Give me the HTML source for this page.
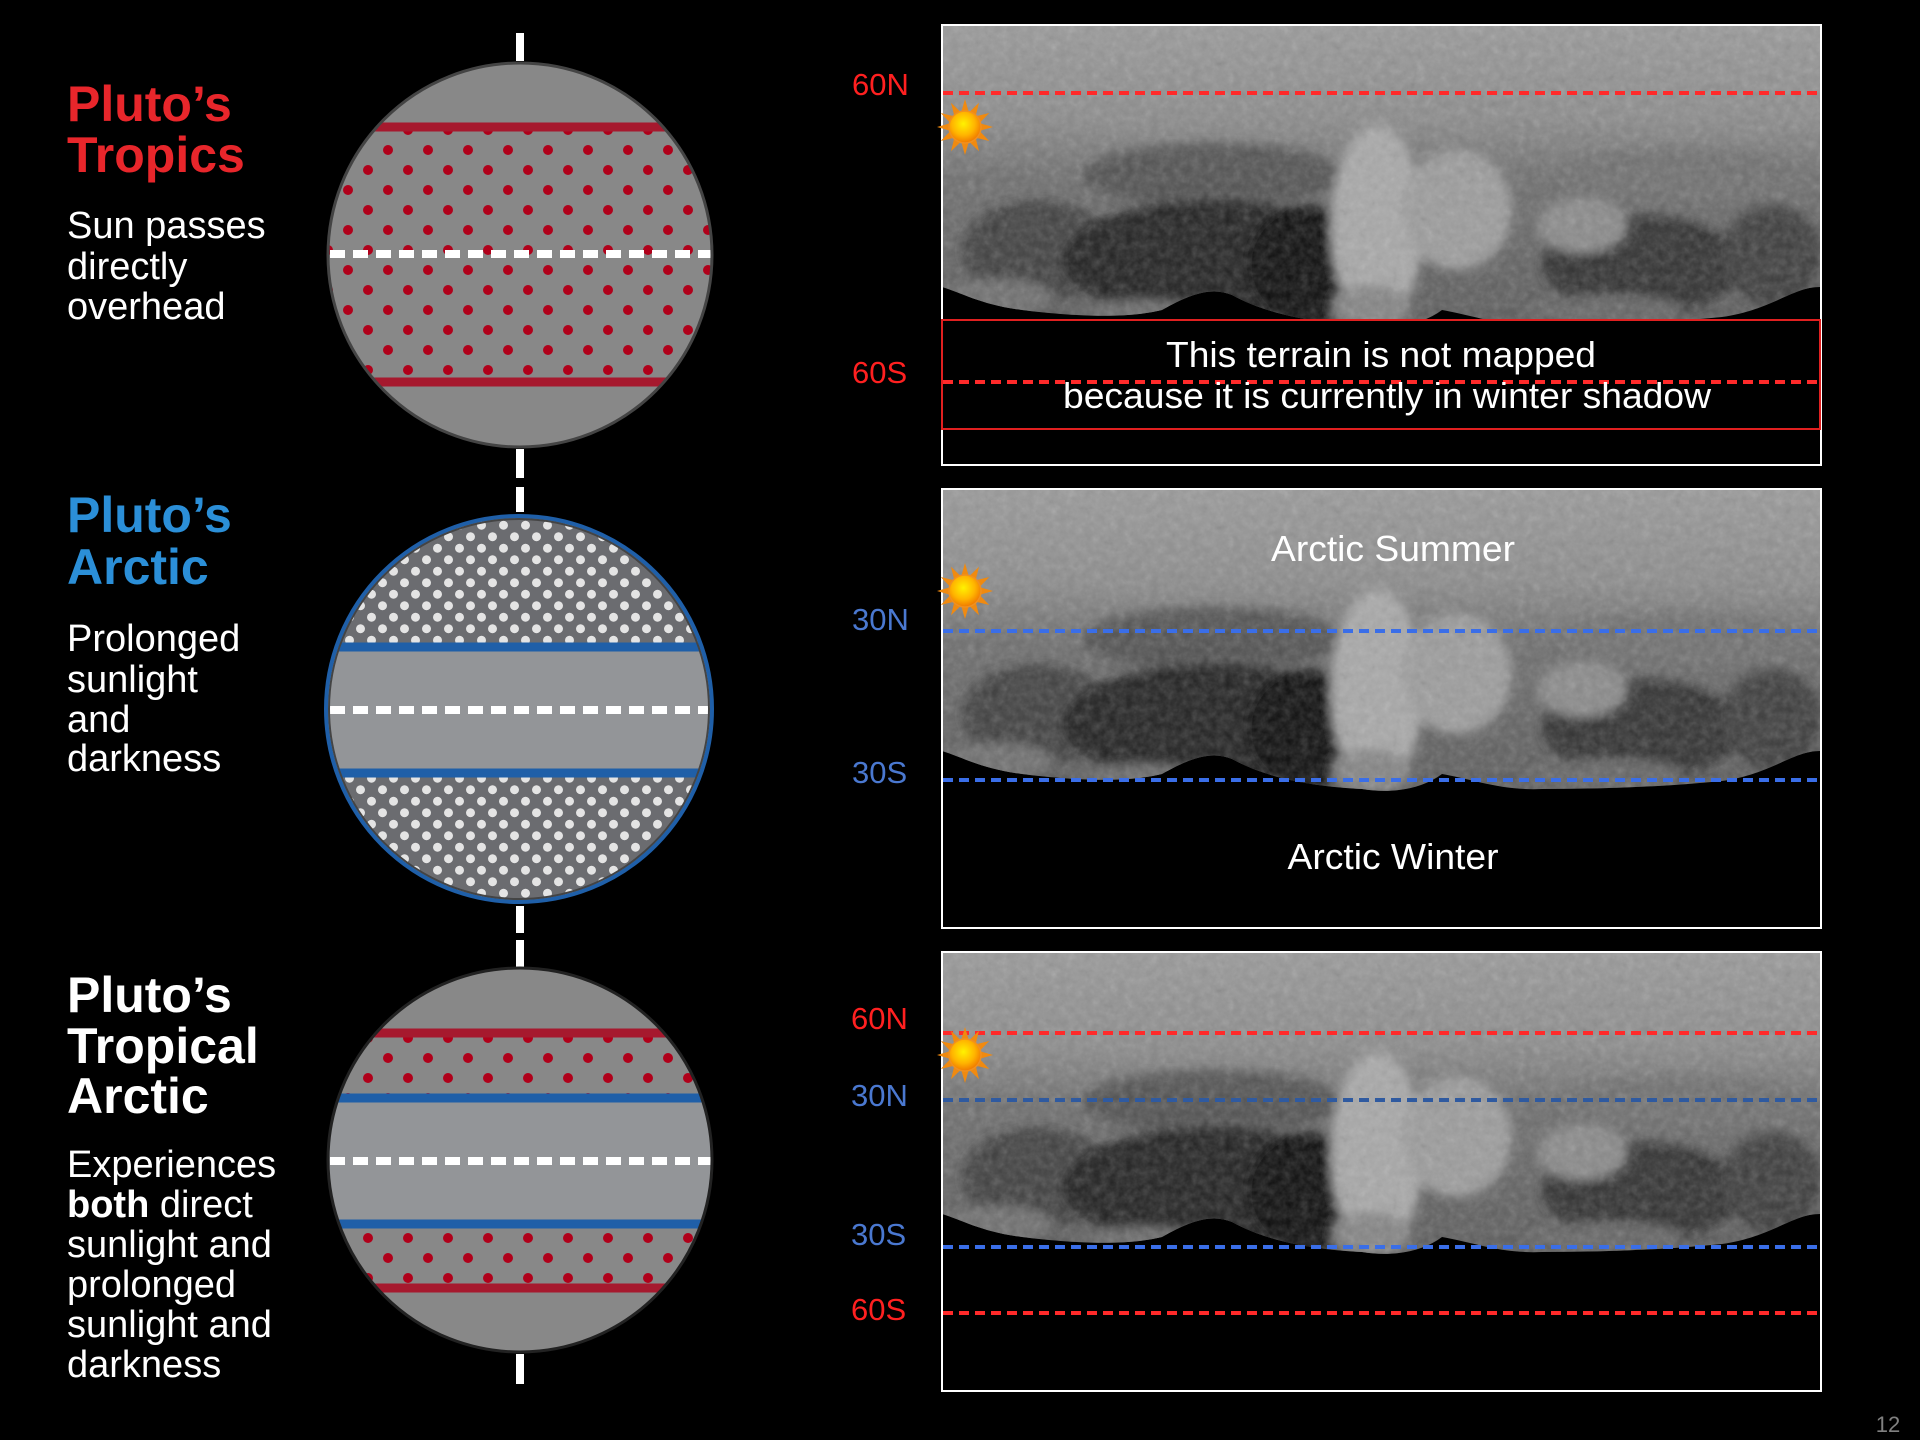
<!DOCTYPE html>
<html><head><meta charset="utf-8"><style>
html,body{margin:0;padding:0;background:#000;}
svg{display:block;}
text{font-family:"Liberation Sans",Arial,sans-serif;}
</style></head><body>
<svg width="1920" height="1440" viewBox="0 0 1920 1440" xmlns="http://www.w3.org/2000/svg">
<defs>
  <pattern id="rd1" patternUnits="userSpaceOnUse" x="-2" y="0" width="40" height="40">
    <circle cx="10" cy="10" r="5" fill="#b0001a"/><circle cx="30" cy="30" r="5" fill="#b0001a"/>
  </pattern>
  <pattern id="rd3" patternUnits="userSpaceOnUse" x="-2" y="28" width="40" height="40">
    <circle cx="10" cy="10" r="5" fill="#b0001a"/><circle cx="30" cy="30" r="5" fill="#b0001a"/>
  </pattern>
  <pattern id="wd" patternUnits="userSpaceOnUse" x="3" y="2" width="22" height="23">
    <circle cx="5.5" cy="5.75" r="4.5" fill="#e4e4e4"/><circle cx="16.5" cy="17.25" r="4.5" fill="#e4e4e4"/>
  </pattern>
  <clipPath id="c1"><circle cx="520" cy="255" r="191"/></clipPath>
  <clipPath id="c2"><circle cx="519" cy="709" r="191"/></clipPath>
  <clipPath id="c3"><circle cx="520" cy="1160" r="191"/></clipPath>
  <clipPath id="mapclip"><path d="M0,0 H878 V262 C850,262 830,285 780,292 C720,298 660,300 600,300 C560,302 530,290 500,285 C480,300 450,305 420,300 C380,298 330,292 290,270 C270,262 250,268 220,285 C180,295 120,290 80,285 C40,280 20,268 0,262 Z"/></clipPath>
  <linearGradient id="tg" x1="0" y1="0" x2="0" y2="1">
    <stop offset="0" stop-color="#9a9a9a"/><stop offset="0.3" stop-color="#8c8c8c"/><stop offset="0.5" stop-color="#6e6e6e"/><stop offset="1" stop-color="#5a5a5a"/>
  </linearGradient>
  <filter id="bl" x="-20%" y="-20%" width="140%" height="140%"><feGaussianBlur stdDeviation="5"/></filter>
  <filter id="noise"><feTurbulence type="fractalNoise" baseFrequency="0.12" numOctaves="3" seed="4"/><feColorMatrix type="saturate" values="0"/></filter>
  <radialGradient id="sung" cx="0.45" cy="0.4" r="0.6">
    <stop offset="0" stop-color="#fff200"/><stop offset="0.6" stop-color="#ffb400"/><stop offset="1" stop-color="#f07800"/>
  </radialGradient>
  <g id="terr">
    <rect x="0" y="0" width="878" height="440" fill="#000"/>
    <g clip-path="url(#mapclip)">
      <rect x="0" y="0" width="878" height="310" fill="url(#tg)"/>
      <g filter="url(#bl)">
        <ellipse cx="95" cy="225" rx="75" ry="50" fill="#3a3a3a" opacity="0.8"/>
        <ellipse cx="270" cy="150" rx="130" ry="32" fill="#4c4c4c" opacity="0.85"/>
        <ellipse cx="270" cy="235" rx="150" ry="60" fill="#222"/>
        <ellipse cx="365" cy="240" rx="60" ry="60" fill="#111"/>
        <ellipse cx="55" cy="272" rx="55" ry="18" fill="#707070"/>
        <ellipse cx="200" cy="287" rx="60" ry="12" fill="#6a6a6a"/>
        <ellipse cx="700" cy="240" rx="100" ry="50" fill="#333"/>
        <ellipse cx="830" cy="230" rx="50" ry="50" fill="#3c3c3c"/>
        <ellipse cx="640" cy="200" rx="45" ry="28" fill="#8a8a8a"/>
        <ellipse cx="740" cy="150" rx="130" ry="25" fill="#707070"/>
        <ellipse cx="660" cy="285" rx="80" ry="15" fill="#666"/>
        <ellipse cx="435" cy="200" rx="46" ry="100" fill="#a8a8a8"/>
        <ellipse cx="515" cy="185" rx="55" ry="60" fill="#9c9c9c"/>
        <ellipse cx="430" cy="282" rx="40" ry="22" fill="#858585"/>
      </g>
      <rect x="0" y="0" width="878" height="310" filter="url(#noise)" opacity="0.28"/>
    </g>
  </g>
  <g id="sun">
    <g fill="#f08a10">
      <polygon points="0,-28 4,-14 -4,-14"/><polygon points="0,-28 4,-14 -4,-14" transform="rotate(30)"/>
      <polygon points="0,-28 4,-14 -4,-14" transform="rotate(60)"/><polygon points="0,-28 4,-14 -4,-14" transform="rotate(90)"/>
      <polygon points="0,-28 4,-14 -4,-14" transform="rotate(120)"/><polygon points="0,-28 4,-14 -4,-14" transform="rotate(150)"/>
      <polygon points="0,-28 4,-14 -4,-14" transform="rotate(180)"/><polygon points="0,-28 4,-14 -4,-14" transform="rotate(210)"/>
      <polygon points="0,-28 4,-14 -4,-14" transform="rotate(240)"/><polygon points="0,-28 4,-14 -4,-14" transform="rotate(270)"/>
      <polygon points="0,-28 4,-14 -4,-14" transform="rotate(300)"/><polygon points="0,-28 4,-14 -4,-14" transform="rotate(330)"/>
    </g>
    <circle r="16" fill="url(#sung)" stroke="#f09020" stroke-width="1.5"/>
  </g>
</defs>

<g fill="#fff">
  <rect x="516" y="33" width="8" height="28"/>
  <rect x="516" y="449" width="8" height="29"/>
  <rect x="516" y="487" width="8" height="25"/>
  <rect x="516" y="906" width="8" height="27"/>
  <rect x="516" y="940" width="8" height="27"/>
  <rect x="516" y="1354" width="8" height="30"/>
</g>

<circle cx="520" cy="255" r="192" fill="#888"/>
<g clip-path="url(#c1)">
  <rect x="320" y="127" width="400" height="255" fill="url(#rd1)"/>
  <rect x="320" y="122.5" width="400" height="9" fill="#a6192e"/>
  <rect x="320" y="377.5" width="400" height="9" fill="#a6192e"/>
  <line x1="330" y1="254" x2="712" y2="254" stroke="#fff" stroke-width="8" stroke-dasharray="15 8"/>
</g>
<circle cx="520" cy="255" r="192" fill="none" stroke="#444" stroke-width="3"/>

<circle cx="519" cy="709" r="193" fill="#6b6c70"/>
<g clip-path="url(#c2)">
  <rect x="320" y="510" width="400" height="140" fill="url(#wd)"/>
  <rect x="320" y="770" width="400" height="140" fill="url(#wd)"/>
  <rect x="320" y="651" width="400" height="118" fill="#939598"/>
  <rect x="320" y="642.5" width="400" height="9" fill="#1f5fa8"/>
  <rect x="320" y="768.5" width="400" height="9" fill="#1f5fa8"/>
  <line x1="330" y1="710" x2="712" y2="710" stroke="#fff" stroke-width="8" stroke-dasharray="15 8"/>
</g>
<circle cx="519" cy="709" r="190" fill="none" stroke="#444" stroke-width="2"/>
<circle cx="519" cy="709" r="193" fill="none" stroke="#1f5fa8" stroke-width="4"/>

<circle cx="520" cy="1160" r="192" fill="#888"/>
<g clip-path="url(#c3)">
  <rect x="320" y="1033" width="400" height="65" fill="url(#rd3)"/>
  <rect x="320" y="1224" width="400" height="64" fill="url(#rd3)"/>
  <rect x="320" y="1098" width="400" height="126" fill="#939598"/>
  <rect x="320" y="1028.5" width="400" height="9" fill="#a6192e"/>
  <rect x="320" y="1283.5" width="400" height="9" fill="#a6192e"/>
  <rect x="320" y="1093.5" width="400" height="9" fill="#1f5fa8"/>
  <rect x="320" y="1219.5" width="400" height="9" fill="#1f5fa8"/>
  <line x1="330" y1="1161" x2="712" y2="1161" stroke="#fff" stroke-width="8" stroke-dasharray="15 8"/>
</g>
<circle cx="520" cy="1160" r="192" fill="none" stroke="#222" stroke-width="3"/>

<g font-weight="bold" font-size="50">
  <text x="67" y="121" fill="#e8262b">Pluto’s</text>
  <text x="67" y="172" fill="#e8262b">Tropics</text>
  <text x="67" y="532" fill="#2b8fd8">Pluto’s</text>
  <text x="67" y="584" fill="#2b8fd8">Arctic</text>
  <text x="67" y="1012" fill="#fff">Pluto’s</text>
  <text x="67" y="1063" fill="#fff">Tropical</text>
  <text x="67" y="1113" fill="#fff">Arctic</text>
</g>
<g font-size="38" fill="#fff">
  <text x="67" y="238">Sun passes</text>
  <text x="67" y="279">directly</text>
  <text x="67" y="319">overhead</text>
  <text x="67" y="651">Prolonged</text>
  <text x="67" y="692">sunlight</text>
  <text x="67" y="732">and</text>
  <text x="67" y="771">darkness</text>
  <text x="67" y="1177">Experiences</text>
  <text x="67" y="1217"><tspan font-weight="bold">both</tspan> direct</text>
  <text x="67" y="1257">sunlight and</text>
  <text x="67" y="1297">prolonged</text>
  <text x="67" y="1337">sunlight and</text>
  <text x="67" y="1377">darkness</text>
</g>

<use href="#terr" x="942" y="25"/>
<rect x="942" y="25" width="879" height="440" fill="none" stroke="#fff" stroke-width="2"/>
<line x1="943" y1="93" x2="1820" y2="93" stroke="#ff2a2a" stroke-width="4" stroke-dasharray="10 6"/>
<rect x="942" y="320" width="878" height="109" fill="#000" stroke="#e02020" stroke-width="2"/>
<line x1="943" y1="382" x2="1820" y2="382" stroke="#ff2a2a" stroke-width="4" stroke-dasharray="10 6"/>
<text x="1381" y="367" fill="#fff" font-size="36" text-anchor="middle" textLength="430" lengthAdjust="spacingAndGlyphs">This terrain is not mapped</text>
<text x="1387" y="408" fill="#fff" font-size="36" text-anchor="middle" textLength="648" lengthAdjust="spacingAndGlyphs">because it is currently in winter shadow</text>
<use href="#sun" x="965" y="127"/>
<text x="852" y="95" fill="#ff2020" font-size="31">60N</text>
<text x="852" y="383" fill="#ff2020" font-size="31">60S</text>

<use href="#terr" x="942" y="489"/>
<rect x="942" y="489" width="879" height="439" fill="none" stroke="#fff" stroke-width="2"/>
<line x1="943" y1="631" x2="1820" y2="631" stroke="#3a6ee8" stroke-width="4" stroke-dasharray="10 6"/>
<line x1="943" y1="780" x2="1820" y2="780" stroke="#3a6ee8" stroke-width="4" stroke-dasharray="10 6"/>
<text x="1393" y="561" fill="#fff" font-size="36" text-anchor="middle" textLength="244" lengthAdjust="spacingAndGlyphs">Arctic Summer</text>
<text x="1393" y="869" fill="#fff" font-size="36" text-anchor="middle" textLength="211" lengthAdjust="spacingAndGlyphs">Arctic Winter</text>
<use href="#sun" x="965" y="591"/>
<text x="852" y="630" fill="#4a78d0" font-size="31">30N</text>
<text x="852" y="783" fill="#4a78d0" font-size="31">30S</text>

<use href="#terr" x="942" y="952"/>
<rect x="942" y="952" width="879" height="439" fill="none" stroke="#fff" stroke-width="2"/>
<line x1="943" y1="1033" x2="1820" y2="1033" stroke="#ff2a2a" stroke-width="4" stroke-dasharray="10 6"/>
<line x1="943" y1="1100" x2="1820" y2="1100" stroke="#2f5aa0" stroke-width="4" stroke-dasharray="10 6"/>
<line x1="943" y1="1247" x2="1820" y2="1247" stroke="#3a6ee8" stroke-width="4" stroke-dasharray="10 6"/>
<line x1="943" y1="1313" x2="1820" y2="1313" stroke="#ff2a2a" stroke-width="4" stroke-dasharray="10 6"/>
<use href="#sun" x="965" y="1055"/>
<text x="851" y="1029" fill="#ff2020" font-size="31">60N</text>
<text x="851" y="1106" fill="#4a78d0" font-size="31">30N</text>
<text x="851" y="1245" fill="#4a78d0" font-size="31">30S</text>
<text x="851" y="1320" fill="#ff2020" font-size="31">60S</text>

<text x="1888" y="1432" fill="#808080" font-size="22" text-anchor="middle">12</text>
</svg>
</body></html>
